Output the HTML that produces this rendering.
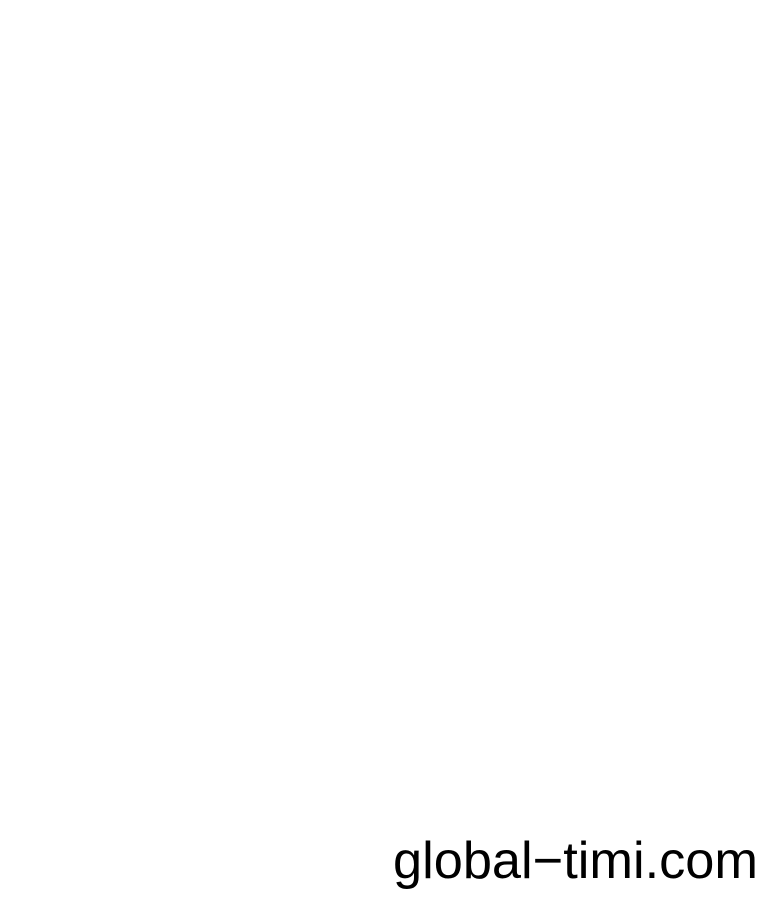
<!DOCTYPE html>
<html><head><meta charset="utf-8"><style>
html,body{margin:0;padding:0;background:#fff;width:783px;height:907px;overflow:hidden}
</style></head><body>
<svg width="783" height="907" xmlns="http://www.w3.org/2000/svg">
<rect width="783" height="907" fill="#fff"/>
<text x="758" y="878" text-anchor="end" font-family="Liberation Sans, sans-serif" font-size="52" fill="#000" textLength="365" lengthAdjust="spacingAndGlyphs">global−timi.com</text>
</svg>
</body></html>
